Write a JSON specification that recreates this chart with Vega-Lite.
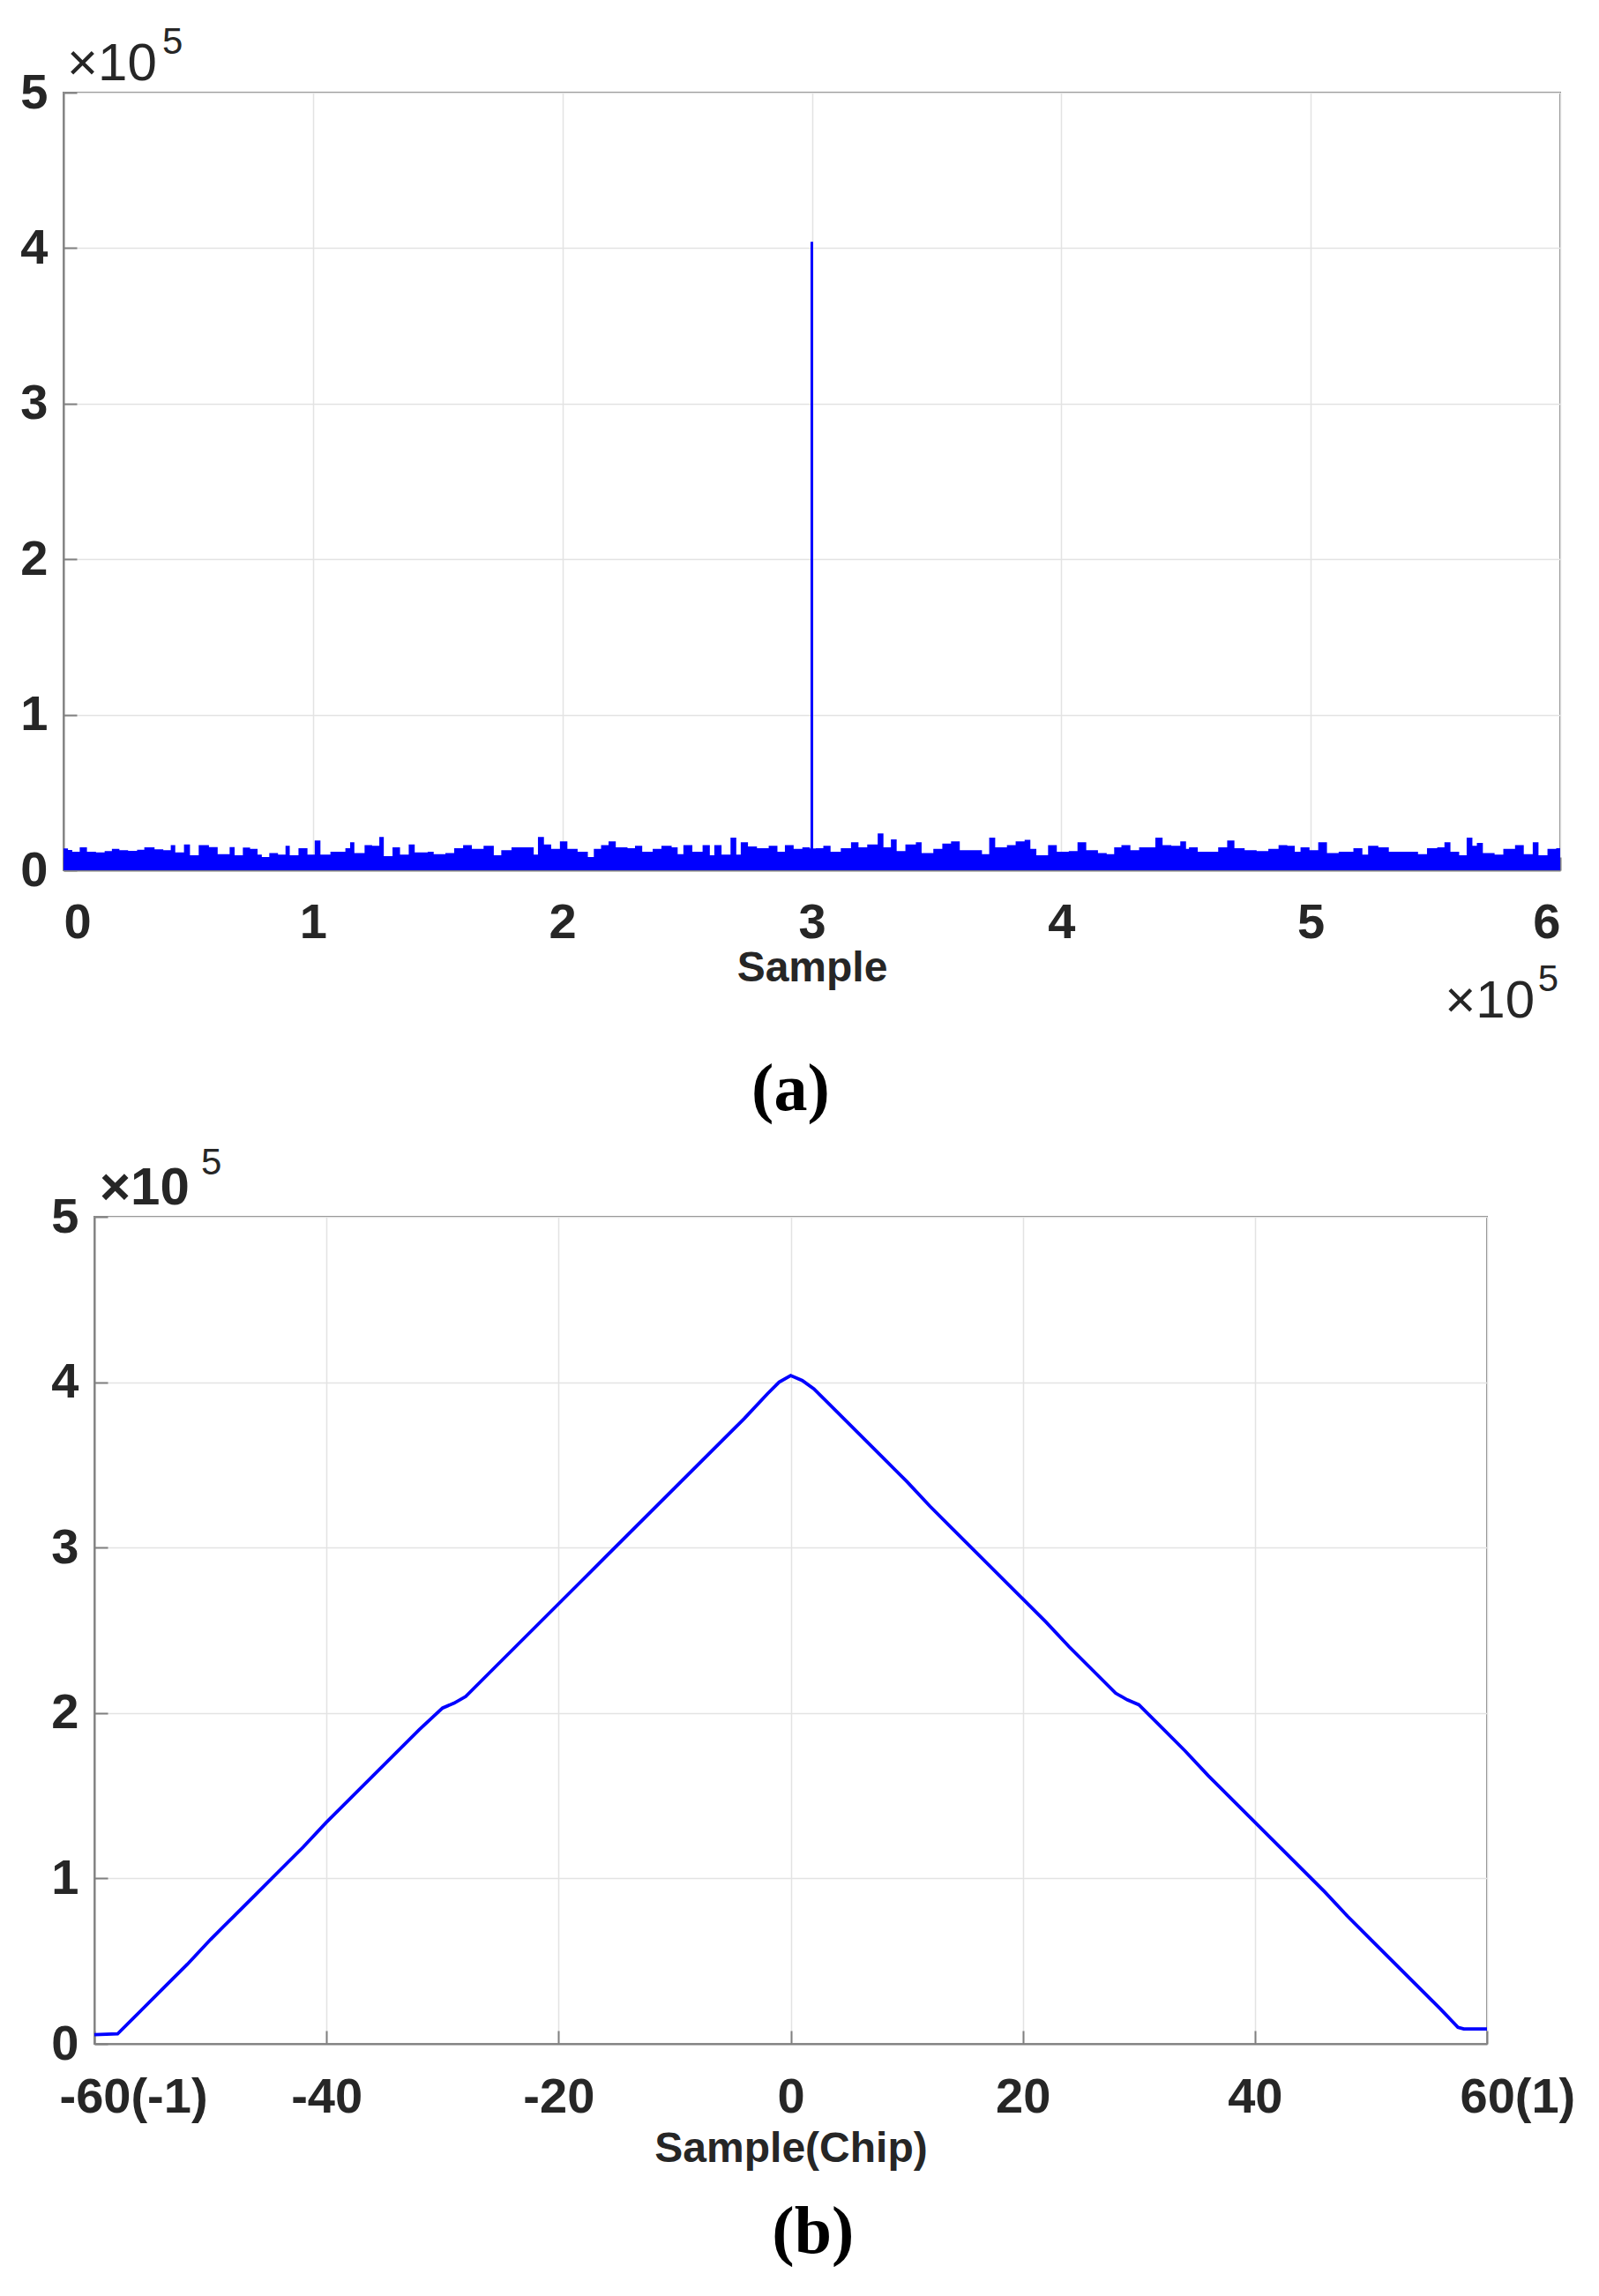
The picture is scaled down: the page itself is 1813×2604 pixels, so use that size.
{
  "$schema": "https://vega.github.io/schema/vega-lite/v6.json",
  "background": "white",
  "padding": {"left": 21, "top": 26, "right": 0, "bottom": 0},
  "datasets": {
    "noise": [
      {"sample": 0, "value": 14000}, {"sample": 1800, "value": 13000}, {"sample": 3500, "value": 11900}, {"sample": 6500, "value": 14700}, {"sample": 9400, "value": 11900}, {"sample": 13000, "value": 11500}, {"sample": 16500, "value": 12300}, {"sample": 19400, "value": 13800}, {"sample": 22400, "value": 12900}, {"sample": 25900, "value": 12500}, {"sample": 29500, "value": 13200}, {"sample": 32400, "value": 14700}, {"sample": 36500, "value": 13400}, {"sample": 40000, "value": 12900}, {"sample": 43000, "value": 16100}, {"sample": 44800, "value": 11500}, {"sample": 48300, "value": 16600}, {"sample": 50700, "value": 9600}, {"sample": 54200, "value": 16100}, {"sample": 58300, "value": 14900}, {"sample": 61800, "value": 10400}, {"sample": 66600, "value": 14900}, {"sample": 68600, "value": 9600}, {"sample": 71900, "value": 14600}, {"sample": 74800, "value": 13800}, {"sample": 77800, "value": 10000}, {"sample": 79500, "value": 8500}, {"sample": 82500, "value": 11000}, {"sample": 86000, "value": 10000}, {"sample": 89000, "value": 15700}, {"sample": 90700, "value": 9600}, {"sample": 94200, "value": 14200}, {"sample": 97800, "value": 10000}, {"sample": 100700, "value": 19100}, {"sample": 103000, "value": 10000}, {"sample": 107000, "value": 11900}, {"sample": 113000, "value": 14200}, {"sample": 114900, "value": 18000}, {"sample": 116600, "value": 11000}, {"sample": 120700, "value": 16100}, {"sample": 123700, "value": 15700}, {"sample": 126600, "value": 21400}, {"sample": 128400, "value": 9100}, {"sample": 131900, "value": 14700}, {"sample": 134900, "value": 10000}, {"sample": 138400, "value": 16600}, {"sample": 140800, "value": 11500}, {"sample": 146000, "value": 11900},
      {"sample": 148400, "value": 10400}, {"sample": 153100, "value": 11000}, {"sample": 156600, "value": 14200}, {"sample": 160200, "value": 16100}, {"sample": 163700, "value": 13800}, {"sample": 168400, "value": 15700}, {"sample": 172500, "value": 9600}, {"sample": 175500, "value": 12900}, {"sample": 179600, "value": 14700}, {"sample": 183200, "value": 14700}, {"sample": 186100, "value": 14700}, {"sample": 188500, "value": 10000}, {"sample": 190200, "value": 21400}, {"sample": 192600, "value": 16600}, {"sample": 195500, "value": 13800}, {"sample": 199000, "value": 18500}, {"sample": 202000, "value": 13800}, {"sample": 206100, "value": 11900}, {"sample": 210200, "value": 8500}, {"sample": 212600, "value": 13800}, {"sample": 215500, "value": 16100}, {"sample": 218500, "value": 18500}, {"sample": 221400, "value": 14700}, {"sample": 226100, "value": 14200}, {"sample": 229100, "value": 15700}, {"sample": 232000, "value": 11900}, {"sample": 236200, "value": 13800}, {"sample": 239700, "value": 15700}, {"sample": 243800, "value": 14700}, {"sample": 246200, "value": 10400}, {"sample": 248500, "value": 16100}, {"sample": 252100, "value": 11900}, {"sample": 256200, "value": 16100}, {"sample": 259100, "value": 9600}, {"sample": 260900, "value": 16100}, {"sample": 263800, "value": 10000}, {"sample": 267400, "value": 21000}, {"sample": 269700, "value": 10000}, {"sample": 271500, "value": 18000}, {"sample": 274400, "value": 15300}, {"sample": 278000, "value": 14200}, {"sample": 282700, "value": 15700}, {"sample": 286200, "value": 11900}, {"sample": 289200, "value": 16100}, {"sample": 292700, "value": 13800}, {"sample": 296200, "value": 14700}, {"sample": 299200, "value": 14000},
      {"sample": 301600, "value": 14200}, {"sample": 304600, "value": 15700}, {"sample": 307500, "value": 11900}, {"sample": 311600, "value": 14200}, {"sample": 315700, "value": 18000}, {"sample": 318700, "value": 14700}, {"sample": 322200, "value": 16600}, {"sample": 326400, "value": 23600}, {"sample": 328700, "value": 14700}, {"sample": 331700, "value": 19800}, {"sample": 334000, "value": 12300}, {"sample": 337500, "value": 16600}, {"sample": 341700, "value": 18000}, {"sample": 344000, "value": 11000}, {"sample": 348700, "value": 13800}, {"sample": 352300, "value": 17200}, {"sample": 355800, "value": 18500}, {"sample": 359300, "value": 12900}, {"sample": 364000, "value": 12900}, {"sample": 368200, "value": 10400}, {"sample": 371100, "value": 21000}, {"sample": 373500, "value": 14700}, {"sample": 378200, "value": 16100}, {"sample": 381700, "value": 18500}, {"sample": 385300, "value": 19500}, {"sample": 387600, "value": 13800}, {"sample": 390000, "value": 9600}, {"sample": 394700, "value": 16100}, {"sample": 398200, "value": 11900}, {"sample": 403000, "value": 12300}, {"sample": 406500, "value": 18000}, {"sample": 410000, "value": 12900}, {"sample": 414700, "value": 11000}, {"sample": 418200, "value": 10400}, {"sample": 421200, "value": 14700}, {"sample": 424100, "value": 16100}, {"sample": 427700, "value": 12900}, {"sample": 431200, "value": 14700}, {"sample": 434700, "value": 14700}, {"sample": 437700, "value": 21000}, {"sample": 440600, "value": 16100}, {"sample": 444100, "value": 15700}, {"sample": 447700, "value": 18500}, {"sample": 450000, "value": 13800},
      {"sample": 451200, "value": 14700}, {"sample": 454700, "value": 11900}, {"sample": 459400, "value": 11900}, {"sample": 462900, "value": 14700}, {"sample": 466500, "value": 19100}, {"sample": 469400, "value": 14200}, {"sample": 473500, "value": 12900}, {"sample": 478300, "value": 12300}, {"sample": 483000, "value": 13800}, {"sample": 487100, "value": 16100}, {"sample": 490600, "value": 15700}, {"sample": 493600, "value": 11900}, {"sample": 495900, "value": 14700}, {"sample": 499500, "value": 12900}, {"sample": 503000, "value": 18000}, {"sample": 506500, "value": 11000}, {"sample": 511200, "value": 11900}, {"sample": 517100, "value": 14200}, {"sample": 520700, "value": 10000}, {"sample": 523000, "value": 15700}, {"sample": 527100, "value": 14700}, {"sample": 531300, "value": 11900}, {"sample": 537200, "value": 11900}, {"sample": 543000, "value": 10400}, {"sample": 546600, "value": 14200}, {"sample": 550700, "value": 14700}, {"sample": 553600, "value": 18000}, {"sample": 556000, "value": 11900}, {"sample": 559500, "value": 9600}, {"sample": 562500, "value": 21000}, {"sample": 564800, "value": 15700}, {"sample": 566600, "value": 17600}, {"sample": 569000, "value": 11000}, {"sample": 573700, "value": 10000}, {"sample": 577200, "value": 13800}, {"sample": 581900, "value": 16100}, {"sample": 585400, "value": 10400}, {"sample": 589000, "value": 18000}, {"sample": 591300, "value": 9600}, {"sample": 594900, "value": 13800}, {"sample": 598400, "value": 14200}, {"sample": 600000, "value": 13800}
    ],
    "spike": [{"sample": 300000, "value": 404000}],
    "corr": [
      {"chip": -60, "value": 5500}, {"chip": -58, "value": 6000}, {"chip": -56, "value": 20000}, {"chip": -54, "value": 34000}, {"chip": -52, "value": 48000}, {"chip": -50, "value": 63000}, {"chip": -48, "value": 77000}, {"chip": -46, "value": 91000}, {"chip": -44, "value": 105000}, {"chip": -42, "value": 119000}, {"chip": -40, "value": 134000}, {"chip": -38, "value": 148000}, {"chip": -36, "value": 162000}, {"chip": -34, "value": 176000}, {"chip": -32, "value": 190000}, {"chip": -30, "value": 203000}, {"chip": -29, "value": 206000}, {"chip": -28, "value": 210000}, {"chip": -26, "value": 224000}, {"chip": -24, "value": 238000}, {"chip": -22, "value": 252000}, {"chip": -20, "value": 266000}, {"chip": -18, "value": 280000}, {"chip": -16, "value": 294000}, {"chip": -14, "value": 308000}, {"chip": -12, "value": 322000}, {"chip": -10, "value": 336000}, {"chip": -8, "value": 350000}, {"chip": -6, "value": 364000}, {"chip": -4, "value": 378000}, {"chip": -2, "value": 393000}, {"chip": -1, "value": 400000}, {"chip": 0, "value": 404000}, {"chip": 1, "value": 401000}, {"chip": 2, "value": 396000}, {"chip": 4, "value": 382000}, {"chip": 6, "value": 368000}, {"chip": 8, "value": 354000}, {"chip": 10, "value": 340000}, {"chip": 12, "value": 325000}, {"chip": 14, "value": 311000}, {"chip": 16, "value": 297000}, {"chip": 18, "value": 283000}, {"chip": 20, "value": 269000}, {"chip": 22, "value": 255000}, {"chip": 24, "value": 240000}, {"chip": 26, "value": 226000}, {"chip": 28, "value": 212000}, {"chip": 29, "value": 208000}, {"chip": 30, "value": 205000}, {"chip": 32, "value": 191000}, {"chip": 34, "value": 177000}, {"chip": 36, "value": 162000}, {"chip": 38, "value": 148000}, {"chip": 40, "value": 134000}, {"chip": 42, "value": 120000}, {"chip": 44, "value": 106000}, {"chip": 46, "value": 92000}, {"chip": 48, "value": 77000}, {"chip": 50, "value": 63000}, {"chip": 52, "value": 49000}, {"chip": 54, "value": 35000}, {"chip": 56, "value": 21000}, {"chip": 57.5, "value": 10000}, {"chip": 58, "value": 9000}, {"chip": 60, "value": 9000}
    ],
    "expo": [{"base": "×10", "sup": "5"}]
  },
  "vconcat": [
    {
      "width": 1697,
      "height": 882,
      "title": {"text": "(a)", "orient": "bottom", "anchor": "middle", "frame": "bounds", "font": "Liberation Serif", "fontSize": 76, "fontWeight": "bold", "color": "#000000", "offset": 33},
      "layer": [
        {
          "data": {"name": "noise"},
          "mark": {"type": "area", "interpolate": "step-after", "color": "#0000ff", "opacity": 1},
          "encoding": {
            "x": {"field": "sample", "type": "quantitative", "scale": {"domain": [0, 600000], "nice": false, "zero": false},
                  "axis": {"title": "Sample", "values": [0, 100000, 200000, 300000, 400000, 500000, 600000], "labelExpr": "format(datum.value/100000, 'd')", "labelPadding": 47, "titlePadding": 0}},
            "y": {"field": "value", "type": "quantitative", "scale": {"domain": [0, 500000], "nice": false},
                  "axis": {"title": null, "values": [0, 100000, 200000, 300000, 400000, 500000], "labelExpr": "format(datum.value/100000, 'd')", "labelPadding": 33}}
          }
        },
        {
          "data": {"name": "spike"},
          "mark": {"type": "rule", "color": "#0000ff", "strokeWidth": 3},
          "encoding": {
            "x": {"field": "sample", "type": "quantitative", "title": "Sample"},
            "y": {"field": "value", "type": "quantitative", "title": null},
            "y2": {"datum": 0}
          }
        },
        {
          "data": {"name": "expo"},
          "mark": {"type": "text", "align": "left", "baseline": "alphabetic", "fontSize": 60, "dx": 4, "dy": -14, "color": "#262626"},
          "encoding": {"x": {"datum": 0, "type": "quantitative"}, "y": {"datum": 500000, "type": "quantitative"}, "text": {"field": "base"}}
        },
        {
          "data": {"name": "expo"},
          "mark": {"type": "text", "align": "left", "baseline": "alphabetic", "fontSize": 42, "dx": 112, "dy": -44, "color": "#262626"},
          "encoding": {"x": {"datum": 0, "type": "quantitative"}, "y": {"datum": 500000, "type": "quantitative"}, "text": {"field": "sup"}}
        },
        {
          "data": {"name": "expo"},
          "mark": {"type": "text", "align": "right", "baseline": "alphabetic", "fontSize": 60, "dx": -29, "dy": 167, "color": "#262626"},
          "encoding": {"x": {"datum": 600000, "type": "quantitative"}, "y": {"datum": 0, "type": "quantitative"}, "text": {"field": "base"}}
        },
        {
          "data": {"name": "expo"},
          "mark": {"type": "text", "align": "right", "baseline": "alphabetic", "fontSize": 42, "dx": -2, "dy": 137, "color": "#262626"},
          "encoding": {"x": {"datum": 600000, "type": "quantitative"}, "y": {"datum": 0, "type": "quantitative"}, "text": {"field": "sup"}}
        }
      ]
    },
    {
      "spacing": -17,
      "hconcat": [
        {
          "width": 1,
          "height": 1,
          "view": {"stroke": null},
          "data": {"values": []},
          "mark": "point"
        },
        {
          "width": 1579,
          "height": 938,
          "title": {"text": "(b)", "orient": "bottom", "anchor": "middle", "frame": "bounds", "font": "Liberation Serif", "fontSize": 76, "fontWeight": "bold", "color": "#000000", "offset": 34},
          "layer": [
            {
              "data": {"name": "corr"},
              "mark": {"type": "line", "color": "#0000ff", "strokeWidth": 3.8},
              "encoding": {
                "x": {"field": "chip", "type": "quantitative", "scale": {"domain": [-60, 60], "nice": false, "zero": false},
                      "axis": {"title": "Sample(Chip)", "values": [-60, -40, -20, 0, 20, 40, 60],
                               "labelExpr": "datum.value == -60 ? '-60(-1)' : datum.value == 60 ? '60(1)' : toString(datum.value)",
                               "labelAlign": {"condition": {"test": "abs(datum.value) == 60", "value": "left"}, "value": "center"},
                               "labelOffset": {"condition": [{"test": "datum.value == -60", "value": -40}, {"test": "datum.value == 60", "value": -31}], "value": 0},
                               "labelPadding": 48, "titlePadding": 7}},
                "y": {"field": "value", "type": "quantitative", "scale": {"domain": [0, 500000], "nice": false},
                      "axis": {"title": null, "values": [0, 100000, 200000, 300000, 400000, 500000], "labelExpr": "format(datum.value/100000, 'd')", "labelPadding": 33}}
              }
            },
            {
              "data": {"name": "expo"},
              "mark": {"type": "text", "align": "left", "baseline": "alphabetic", "fontSize": 60, "fontWeight": "bold", "dx": 6, "dy": -14, "color": "#262626"},
              "encoding": {"x": {"datum": -60, "type": "quantitative"}, "y": {"datum": 500000, "type": "quantitative"}, "text": {"field": "base"}}
            },
            {
              "data": {"name": "expo"},
              "mark": {"type": "text", "align": "left", "baseline": "alphabetic", "fontSize": 42, "dx": 121, "dy": -48, "color": "#262626"},
              "encoding": {"x": {"datum": -60, "type": "quantitative"}, "y": {"datum": 500000, "type": "quantitative"}, "text": {"field": "sup"}}
            }
          ]
        }
      ]
    }
  ],
  "spacing": 22,
  "config": {
    "font": "Liberation Sans",
    "view": {"stroke": "#808080", "strokeWidth": 2},
    "axis": {
      "domainColor": "#808080", "domainWidth": 2,
      "tickColor": "#808080", "tickWidth": 2, "tickSize": -15,
      "grid": true, "gridColor": "#e3e3e3", "gridWidth": 1.5,
      "labelFont": "Liberation Sans", "labelFontSize": 56, "labelFontWeight": "bold", "labelColor": "#262626",
      "titleFont": "Liberation Sans", "titleFontSize": 48, "titleFontWeight": "bold", "titleColor": "#262626"
    }
  }
}
